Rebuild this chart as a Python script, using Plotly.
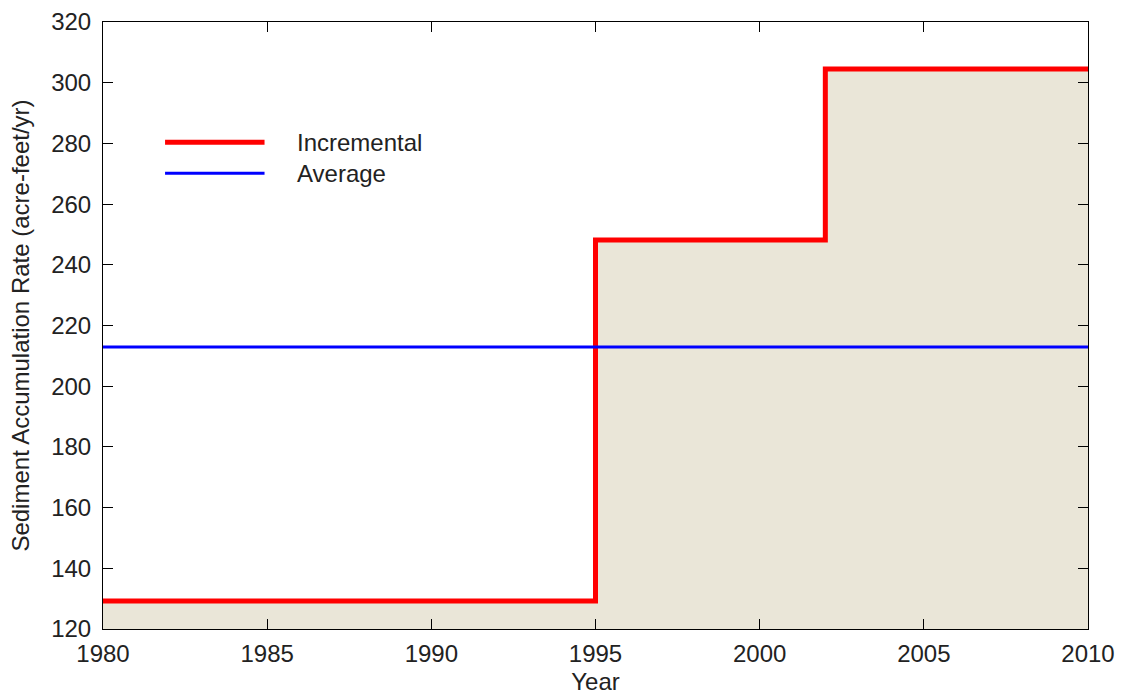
import plotly.graph_objects as go

# Data
step_years = [1980, 1995, 2002, 2010]
incremental_rates = [129.2, 248.2, 304.5, 304.5]
average_years = [1980, 2010]
average_rate = [212.9, 212.9]
x_ticks = [1980, 1985, 1990, 1995, 2000, 2005, 2010]
y_ticks = [120, 140, 160, 180, 200, 220, 240, 260, 280, 300, 320]

FONT = "Liberation Sans, Arial, sans-serif"
FS = 24
TXT = "#222222"

fig = go.Figure()
fig.add_trace(go.Scatter(
    x=step_years, y=incremental_rates, mode="lines", line_shape="hv",
    fill="tozeroy", fillcolor="#EAE6D8",
    line=dict(color="#FF0000", width=5), name="Incremental", showlegend=False,
))
fig.add_trace(go.Scatter(
    x=average_years, y=average_rate, mode="lines",
    line=dict(color="#0000FF", width=3), name="Average", showlegend=False,
))

# custom legend (long line samples as in the reference)
legend_items = [("Incremental", "#FF0000", 5, 0.802), ("Average", "#0000FF", 3, 0.751)]
for label, color, w, yp in legend_items:
    fig.add_shape(type="line", xref="paper", yref="paper", x0=0.063, x1=0.164,
                  y0=yp, y1=yp, line=dict(color=color, width=w))
    fig.add_annotation(xref="paper", yref="paper", x=0.195, y=yp, text=label,
                       showarrow=False, xanchor="left", yanchor="middle",
                       font=dict(family=FONT, size=FS, color=TXT))

axis_common = dict(
    showline=True, linecolor="#000000", linewidth=1, mirror="ticks",
    ticks="inside", ticklen=10, tickwidth=1, tickcolor="#000000",
    showgrid=False, zeroline=False, automargin=False,
    tickfont=dict(family=FONT, size=FS, color=TXT),
)
fig.update_xaxes(range=[1980, 2010], tickvals=x_ticks, ticklabelstandoff=3,
                 title=dict(text="Year", font=dict(family=FONT, size=FS, color=TXT), standoff=7),
                 **axis_common)
fig.update_yaxes(range=[120, 320], tickvals=y_ticks, ticklabelstandoff=6,
                 title=dict(text="Sediment Accumulation Rate (acre-feet/yr)",
                            font=dict(family=FONT, size=FS, color=TXT), standoff=14),
                 **axis_common)

fig.update_layout(
    width=1122, height=695,
    margin=dict(l=103, r=34, t=22, b=66),
    paper_bgcolor="white", plot_bgcolor="white",
    showlegend=False,
)

fig.write_html("out.html")
